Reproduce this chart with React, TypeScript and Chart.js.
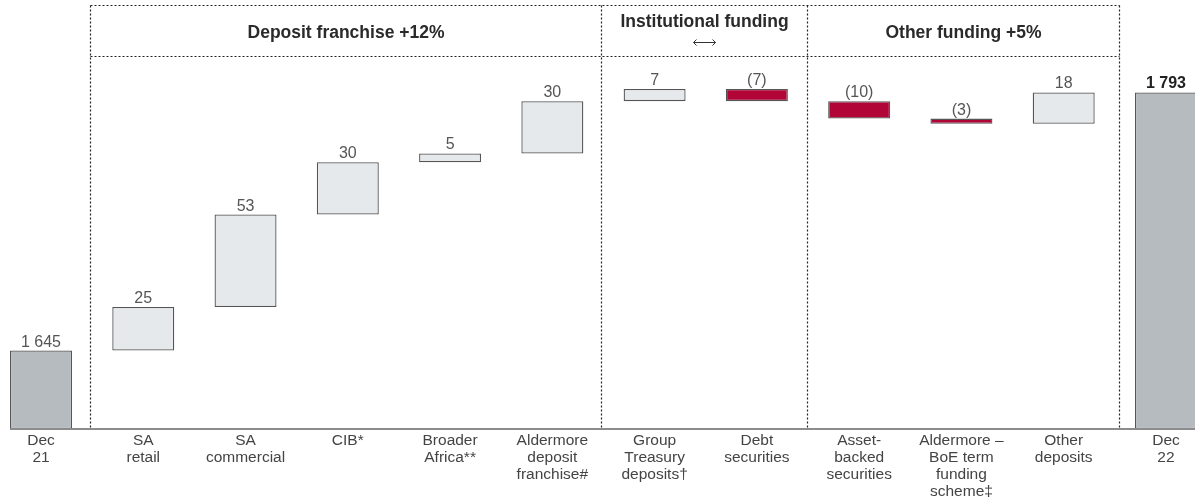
import React, { useEffect, useRef } from "react";
import { Chart, registerables } from "chart.js";

Chart.register(...registerables);

const categories: string[][] = [
  ["Dec", "21"],
  ["SA", "retail"],
  ["SA", "commercial"],
  ["CIB*"],
  ["Broader", "Africa**"],
  ["Aldermore", "deposit", "franchise#"],
  ["Group", "Treasury", "deposits†"],
  ["Debt", "securities"],
  ["Asset-", "backed", "securities"],
  ["Aldermore –", "BoE term", "funding", "scheme‡"],
  ["Other", "deposits"],
  ["Dec", "22"],
];
const openingTotal = 1645;
const movements = [25, 53, 30, 5, 30, 7, -7, -10, -3, 18];
const closingTotal = 1793;
const valueLabels = ["1 645", "25", "53", "30", "5", "30", "7", "(7)", "(10)", "(3)", "18", "1 793"];
const groupTitles = ["Deposit franchise +12%", "Institutional funding", "Other funding +5%"];
const yMin = 1600;
const yMax = 1846;

const COLOR_TOTAL = "#b6bbc0";
const COLOR_UP = "#e6e9ec";
const COLOR_DOWN = "#b10538";
const FONT = "'Liberation Sans', Arial, Helvetica, sans-serif";

// x scale geometry (value units)
const X_MIN = -0.4009;
const X_MAX = 11.2839;
const GROUP_BOUNDS = [0.476, 5.473, 7.487, 10.544];

function buildRanges(): [number, number][] {
  const out: [number, number][] = [[yMin, openingTotal]];
  let run = openingTotal;
  for (const m of movements) {
    out.push([run, run + m]);
    run += m;
  }
  out.push([yMin, closingTotal]);
  return out;
}

const overlayPlugin = {
  id: "overlay",
  afterDatasetsDraw(chart: any) {
    const ctx = chart.ctx;
    const xs = chart.scales.x;
    const area = chart.chartArea;
    const meta = chart.getDatasetMeta(0);
    ctx.save();
    // value labels
    meta.data.forEach((el: any, i: number) => {
      const top = Math.min(el.y, el.base);
      const last = i === meta.data.length - 1;
      ctx.font = `${last ? "bold " : ""}16px ${FONT}`;
      ctx.fillStyle = last ? "#222" : "#555";
      ctx.textAlign = "center";
      ctx.textBaseline = "alphabetic";
      ctx.fillText(valueLabels[i], el.x, top - 4);
    });

    // axis line
    const firstEl = meta.data[0];
    ctx.strokeStyle = "#8c8c8c";
    ctx.lineWidth = 2;
    ctx.beginPath();
    ctx.moveTo(firstEl.x - firstEl.width / 2, area.bottom);
    ctx.lineTo(chart.width, area.bottom);
    ctx.stroke();

    // dashed group boxes
    const bx = GROUP_BOUNDS.map((v) => Math.round(xs.getPixelForValue(v)) + 0.5);
    const topY = 5.5;
    const sepY = 56.5;
    ctx.strokeStyle = "#222";
    ctx.lineWidth = 1.2;
    ctx.setLineDash([2, 2]);
    ctx.beginPath();
    ctx.moveTo(bx[0], topY);
    ctx.lineTo(bx[bx.length - 1], topY);
    ctx.moveTo(bx[0], sepY);
    ctx.lineTo(bx[bx.length - 1], sepY);
    bx.forEach((x) => {
      ctx.moveTo(x, topY);
      ctx.lineTo(x, area.bottom - 1);
    });
    ctx.stroke();
    ctx.setLineDash([]);

    // group titles
    ctx.font = `bold 17.5px ${FONT}`;
    ctx.fillStyle = "#2a2a2a";
    ctx.textAlign = "center";
    ctx.textBaseline = "middle";
    for (let g = 0; g < groupTitles.length; g++) {
      const cx = (bx[g] + bx[g + 1]) / 2;
      const cy = g === 1 ? 22 : 33;
      ctx.fillText(groupTitles[g], cx, cy);
      if (g === 1) {
        const ay = 42.5;
        ctx.strokeStyle = "#333";
        ctx.lineWidth = 1;
        ctx.beginPath();
        ctx.moveTo(cx - 11, ay);
        ctx.lineTo(cx + 11, ay);
        ctx.moveTo(cx - 8, ay - 3);
        ctx.lineTo(cx - 11, ay);
        ctx.lineTo(cx - 8, ay + 3);
        ctx.moveTo(cx + 8, ay - 3);
        ctx.lineTo(cx + 11, ay);
        ctx.lineTo(cx + 8, ay + 3);
        ctx.stroke();
      }
    }
    ctx.restore();
  },
};

export default function App() {
  const ref = useRef<HTMLCanvasElement | null>(null);
  useEffect(() => {
    document.body.style.margin = "0";
    const ranges = buildRanges();
    const colors = ranges.map((r, i) =>
      i === 0 || i === ranges.length - 1 ? COLOR_TOTAL : r[1] >= r[0] ? COLOR_UP : COLOR_DOWN
    );
    const chart = new Chart(ref.current as HTMLCanvasElement, {
      type: "bar",
      data: {
        datasets: [
          {
            data: ranges.map((r, i) => ({ x: i, y: r })) as any,
            backgroundColor: colors,
            borderColor: "#555",
            borderWidth: 1.3,
            borderSkipped: false,
            categoryPercentage: 1,
            barPercentage: 0.606,
          },
        ],
      },
      options: {
        responsive: false,
        animation: false,
        layout: { padding: 0 },
        plugins: { legend: { display: false }, tooltip: { enabled: false } },
        scales: {
          x: {
            type: "linear",
            min: X_MIN,
            max: X_MAX,
            offset: false,
            grid: { display: false, drawTicks: false, offset: false },
            border: { display: false },
            afterBuildTicks: (s: any) => {
              s.ticks = categories.map((_, i) => ({ value: i }));
            },
            afterFit: (s: any) => {
              s.height = 73;
            },
            ticks: {
              autoSkip: false,
              maxRotation: 0,
              minRotation: 0,
              padding: 3,
              color: "#444",
              font: { family: FONT, size: 15.5, lineHeight: 1.1 },
              callback: (v: any) => categories[Math.round(Number(v))] ?? "",
            },
          },
          y: {
            display: false,
            min: yMin,
            max: yMax,
          },
        },
      },
      plugins: [overlayPlugin],
    });
    return () => chart.destroy();
  }, []);
  return (
    <div style={{ width: 1195, height: 502 }}>
      <canvas ref={ref} width={1195} height={502} />
    </div>
  );
}
